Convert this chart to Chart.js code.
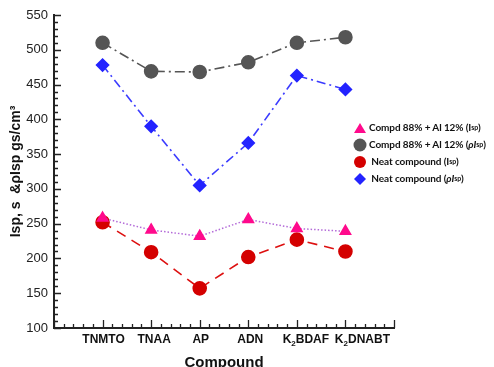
<!DOCTYPE html>
<html><head><meta charset="utf-8">
<script src="https://cdn.jsdelivr.net/npm/chart.js@4/dist/chart.umd.min.js"></script>
<style>
html,body{margin:0;padding:0;background:#fff;}
#wrap{position:relative;width:494px;height:367px;}
#legend{position:absolute;left:353px;top:119px;font-family:Lato,"Open Sans",sans-serif;font-weight:bold;font-size:10px;letter-spacing:-0.1px;color:#111;line-height:17px;}
#legend div{white-space:nowrap;display:flex;align-items:center;height:17px;}
#legend .m{display:inline-block;width:14px;height:14px;margin-right:2px;position:relative;}
#legend sub{font-size:7px;vertical-align:-2px;}
</style></head><body>
<div id="wrap"><canvas id="c" width="494" height="367"></canvas>
<div id="legend">
<div><span class="m"><svg width="14" height="14"><polygon points="7,2 13,12 1,12" fill="#ff0a8c"/></svg></span>Compd 88% + Al 12% (I<sub>sp</sub>)</div>
<div><span class="m"><svg width="14" height="14"><circle cx="7" cy="7" r="6.5" fill="#555"/></svg></span>Compd 88% + Al 12% (<i>ρI</i><sub>sp</sub>)</div>
<div><span class="m"><svg width="14" height="14"><circle cx="7" cy="7" r="6" fill="#d40000"/></svg></span>&nbsp;Neat compound (I<sub>sp</sub>)</div>
<div><span class="m"><svg width="14" height="14"><polygon points="7,1 13,7 7,13 1,7" fill="#2323ff"/></svg></span>&nbsp;Neat compound (<i>ρI</i><sub>sp</sub>)</div>
</div></div>
<script>
// category labels: "K_2..." marks a subscript 2
const categories = ["TNMTO","TNAA","AP","ADN","K_2BDAF","K_2DNABT"];
const compdIsp    = [258, 241, 232, 256, 243, 239];
const compdRhoIsp = [510, 469, 468, 482, 510, 518];
const neatIsp     = [252, 209, 157, 202, 227, 210];
const neatRhoIsp  = [478, 390, 305, 366, 463, 443];
const yTicks = [100,150,200,250,300,350,400,450,500,550];

const pts = arr => arr.map((v,i)=>({x:i+1,y:v}));

const tickPlugin = {
  id:'inTicks',
  afterDraw(chart){
    const ctx = chart.ctx, xs = chart.scales.x, ys = chart.scales.y;
    const ca = chart.chartArea;
    ctx.save();
    ctx.strokeStyle = '#222';
    ctx.lineWidth = 1.3;
    ctx.beginPath();
    for(let v=100; v<=550; v+=10){
      const p = Math.round(ys.getPixelForValue(v))+0.5;
      const len = (v%50===0)?7:4;
      ctx.moveTo(ca.left, p); ctx.lineTo(ca.left+len, p);
    }
    for(let k=0; k<=35; k++){
      const v = k/5;
      const p = Math.round(xs.getPixelForValue(v))+0.5;
      const len = (k%5===0)?8:4;
      ctx.moveTo(p, ca.bottom); ctx.lineTo(p, ca.bottom-len);
    }
    ctx.stroke();
    // category labels (with subscript support)
    const shift = [1, 3, 1, 2, 9, 17];
    const big = 'bold 12px "Liberation Sans"', small = 'bold 8px "Liberation Sans"';
    ctx.fillStyle = '#111';
    ctx.textBaseline = 'alphabetic';
    ctx.textAlign = 'left';
    const baseY = ca.bottom + 15;
    categories.forEach((lab, i) => {
      const parts = lab.split('_');
      let segs = [];
      if (parts.length === 1) segs = [[lab, big, 0]];
      else segs = [[parts[0], big, 0], [parts[1].charAt(0), small, 3], [parts[1].slice(1), big, 0]];
      let w = 0;
      segs.forEach(s => { ctx.font = s[1]; w += ctx.measureText(s[0]).width; });
      let x = xs.getPixelForValue(i+1) + shift[i] - w/2;
      segs.forEach(s => { ctx.font = s[1]; ctx.fillText(s[0], x, baseY + s[2]); x += ctx.measureText(s[0]).width; });
    });
    ctx.restore();
  }
};

new Chart(document.getElementById('c'), {
  type:'line',
  data:{datasets:[
    {label:'Compd 88% + Al 12% (Isp)', data:pts(compdIsp), borderColor:'#b36ad8', borderWidth:1.5, borderDash:[1.5,2],
     pointStyle:'triangle', pointRadius:6, pointBackgroundColor:'#ff0a8c', pointBorderColor:'#ff0a8c'},
    {label:'Compd 88% + Al 12% (ρIsp)', data:pts(compdRhoIsp), borderColor:'#555', borderWidth:1.6, borderDash:[10,4,2,4],
     pointStyle:'circle', pointRadius:6.5, pointBackgroundColor:'#555', pointBorderColor:'#555'},
    {label:'Neat compound (Isp)', data:pts(neatIsp), borderColor:'#dd1010', borderWidth:1.6, borderDash:[10,7],
     pointStyle:'circle', pointRadius:6.5, pointBackgroundColor:'#d40000', pointBorderColor:'#d40000'},
    {label:'Neat compound (ρIsp)', data:pts(neatRhoIsp), borderColor:'#3b3bff', borderWidth:1.6, borderDash:[9,4,2,4],
     pointStyle:'rectRot', pointRadius:6, pointBackgroundColor:'#2323ff', pointBorderColor:'#2323ff'}
  ]},
  options:{
    responsive:false, animation:false,
    layout:{padding:{top:15,right:100,left:0,bottom:0}},
    plugins:{legend:{display:false}, tooltip:{enabled:false}},
    scales:{
      x:{type:'linear', min:0, max:7,
        afterBuildTicks(s){ s.ticks = [0,1,2,3,4,5,6,7].map(v=>({value:v})); },
        afterFit(s){ s.height = 39; },
        grid:{display:false, drawTicks:false},
        border:{display:true, color:'#222', width:2},
        ticks:{display:false},
        title:{display:true, text:'Compound', color:'#111', padding:{top:0,bottom:-5},
          font:{family:'Liberation Sans', size:15, weight:'bold'}}
      },
      y:{min:100, max:550,
        afterBuildTicks(s){ s.ticks = yTicks.map(v=>({value:v})); },
        afterFit(s){ s.width = 54; },
        grid:{display:false, drawTicks:false},
        border:{display:true, color:'#222', width:2},
        ticks:{padding:6, color:'#222', font:{family:'Liberation Sans', size:13}},
        title:{display:true, text:'Isp, s  &ρIsp gs/cm³', color:'#111', padding:{top:8,bottom:2},
          font:{family:'Liberation Sans', size:14, weight:'bold'}}
      }
    }
  },
  plugins:[tickPlugin]
});
</script>
</body></html>
